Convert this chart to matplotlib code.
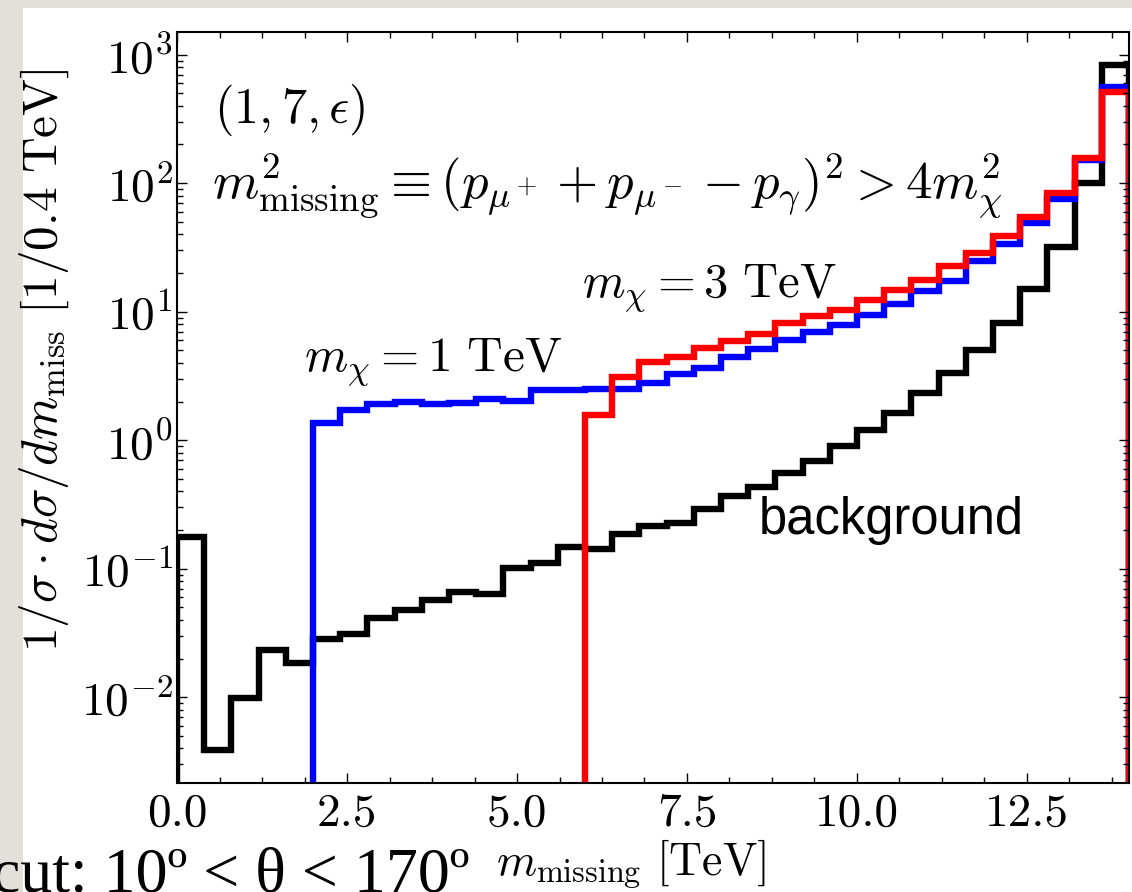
import matplotlib
matplotlib.use("Agg")
import matplotlib.pyplot as plt
import matplotlib.ticker as mticker
import numpy as np
from matplotlib.patches import Rectangle

plt.rcParams["mathtext.fontset"] = "cm"
plt.rcParams["font.family"] = ["cmr10", "DejaVu Serif"]
plt.rcParams["axes.formatter.use_mathtext"] = True

# histogram binning: 0.4 TeV bins from 0 to 14 TeV
bin_width = 0.4
n_bins = 35

# background, one value per bin starting at 0 TeV
background = [
    0.177, 0.0039, 0.0098, 0.0235, 0.0186, 0.0286, 0.0313, 0.041, 0.048,
    0.057, 0.066, 0.063, 0.102, 0.110, 0.148, 0.142, 0.185, 0.215, 0.227,
    0.290, 0.367, 0.43, 0.552, 0.69, 0.906, 1.19, 1.64, 2.32, 3.32, 5.03,
    8.2, 15.1, 32.0, 100.0, 836.0,
]

# m_chi = 1 TeV signal, bins starting at 2.0 TeV
signal_1tev_start = 2.0
signal_1tev = [
    1.36, 1.72, 1.90, 2.0, 1.92, 1.95, 2.08, 2.03, 2.46, 2.44, 2.48, 2.48,
    2.78, 3.28, 3.67, 4.43, 5.1, 6.04, 7.0, 7.9, 9.45, 11.5, 14.4, 17.3,
    25.0, 33.7, 48.9, 75.0, 152.0, 556.0,
]

# m_chi = 3 TeV signal, bins starting at 6.0 TeV
signal_3tev_start = 6.0
signal_3tev = [
    1.57, 3.09, 4.05, 4.43, 5.2, 5.93, 6.66, 8.13, 9.27, 10.3, 12.4, 14.8,
    17.7, 22.6, 28.6, 38.9, 55.0, 83.8, 157.0, 508.0,
]

x_ticks = [0.0, 2.5, 5.0, 7.5, 10.0, 12.5]


def edges_from(start, values):
    return start + bin_width * np.arange(len(values) + 1)


fig = plt.figure(figsize=(11.32, 8.92), dpi=100, facecolor="#e3e0dc")
fig.patches.append(
    Rectangle((23 / 1132, 0), 1, 1 - 8 / 892, transform=fig.transFigure,
              facecolor="white", edgecolor="none", zorder=-10)
)

ax = fig.add_axes([0.1564, 0.1222, 0.8409, 0.8419])
ax.set_yscale("log")

base = 1e-5
lw = 4.6
ax.stairs(background, edges_from(0.0, background), baseline=base,
          color="black", linewidth=lw)
ax.stairs(signal_1tev, edges_from(signal_1tev_start, signal_1tev),
          baseline=base, color="#0000ff", linewidth=lw)
ax.stairs(signal_3tev, edges_from(signal_3tev_start, signal_3tev),
          baseline=base, color="#ff0000", linewidth=lw)

ax.set_xlim(0, n_bins * bin_width)
ax.set_ylim(2.15e-3, 1.5e3)

ax.set_xticks(x_ticks)
ax.xaxis.set_major_formatter(mticker.FormatStrFormatter("%.1f"))
ax.xaxis.set_minor_locator(mticker.MultipleLocator(0.625))
ax.yaxis.set_major_locator(mticker.LogLocator(base=10, numticks=20))
ax.yaxis.set_minor_locator(
    mticker.LogLocator(base=10, subs=np.arange(2, 10), numticks=20)
)
ax.yaxis.set_minor_formatter(mticker.NullFormatter())

ax.tick_params(which="both", direction="in", top=True, right=True,
               width=1.0, labelsize=34)
ax.tick_params(which="major", length=7)
ax.tick_params(which="minor", length=4)
ax.tick_params(axis="x", which="major", pad=7)
ax.tick_params(axis="y", which="major", pad=3)
for spine in ax.spines.values():
    spine.set_linewidth(1.5)

ax.set_xlabel(r"$m_{\rm missing}\ [{\rm TeV}]$", fontsize=33)
ax.xaxis.set_label_coords(0.477, -0.072)
ax.set_ylabel(r"$1/\sigma\cdot d\sigma/dm_{\rm miss}\ [1/0.4\ {\rm TeV}]$",
              fontsize=35.5)
ax.yaxis.set_label_coords(-0.111, 0.563)

ax.text(0.55, 372, r"$(1,7,\epsilon)$", fontsize=36, va="center", ha="left")
ax.text(0.52, 95,
        r"$m^2_{\rm missing}\equiv(p_{\mu^+}+p_{\mu^-}-p_\gamma)^2>4m_\chi^2$",
        fontsize=38, va="center", ha="left")
ax.text(5.95, 15.3, r"$m_\chi=3\ {\rm TeV}$", fontsize=35, va="center",
        ha="left")
ax.text(1.87, 4.06, r"$m_\chi=1\ {\rm TeV}$", fontsize=35.5, va="center",
        ha="left")
ax.text(8.56, 0.239, "background", fontsize=36.5, va="center", ha="left",
        family=["Liberation Sans", "DejaVu Sans"])

fig.text(-8 / 1132, 1 / 892, "cut: 10º < θ < 170º", fontsize=46,
         va="baseline", ha="left",
         family=["Liberation Serif", "DejaVu Serif"])

fig.savefig("out.png", dpi=100, facecolor=fig.get_facecolor())
